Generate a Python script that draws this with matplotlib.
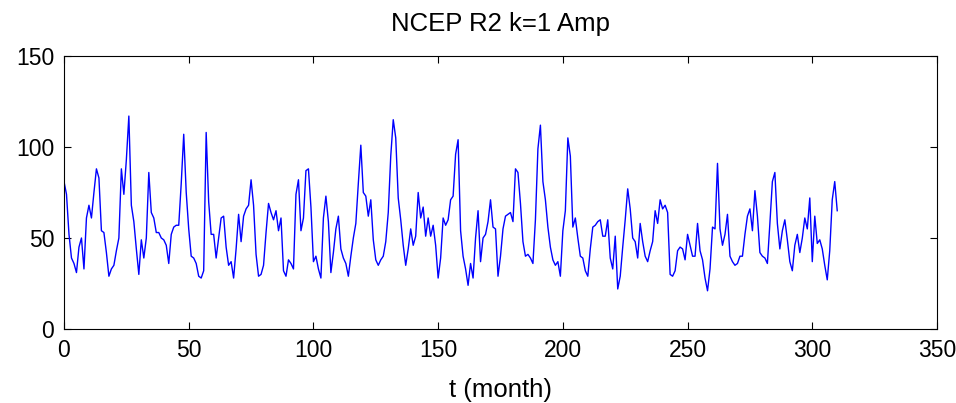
import numpy as np
import matplotlib
matplotlib.use("Agg")
import matplotlib.pyplot as plt

# NCEP R2 k=1 amplitude, one value per month
amp = [
    81, 74, 52, 39, 36, 31, 45, 50, 33, 61,
    68, 61, 75, 88, 83, 54, 53, 42, 29, 33,
    35, 43, 50, 88, 74, 93, 117, 68, 59, 44,
    30, 49, 39, 50, 86, 64, 61, 53, 53, 50,
    49, 46, 36, 52, 56, 57, 57, 80, 107, 75,
    55, 40, 39, 36, 29, 28, 32, 108, 70, 52,
    52, 39, 50, 61, 62, 45, 35, 37, 28, 44,
    63, 48, 62, 66, 68, 82, 68, 41, 29, 30,
    35, 53, 69, 64, 60, 65, 54, 61, 32, 29,
    38, 36, 33, 74, 82, 54, 61, 87, 88, 67,
    37, 40, 33, 28, 61, 73, 59, 31, 42, 55,
    62, 44, 39, 36, 29, 40, 50, 58, 80, 101,
    75, 73, 62, 71, 49, 38, 35, 38, 40, 48,
    64, 95, 115, 105, 72, 60, 46, 35, 44, 55,
    46, 51, 75, 61, 67, 51, 61, 51, 57, 46,
    28, 39, 61, 57, 60, 71, 73, 96, 104, 54,
    40, 33, 24, 36, 28, 50, 65, 37, 50, 52,
    59, 71, 56, 55, 29, 40, 55, 62, 63, 64,
    59, 88, 86, 69, 48, 40, 41, 39, 36, 60,
    99, 112, 81, 71, 56, 45, 38, 35, 37, 29,
    54, 65, 105, 95, 56, 61, 50, 40, 39, 32,
    29, 44, 56, 57, 59, 60, 51, 51, 60, 39,
    33, 51, 22, 29, 45, 60, 77, 66, 50, 48,
    39, 58, 48, 40, 37, 43, 48, 65, 58, 71,
    66, 68, 64, 30, 29, 32, 43, 45, 44, 38,
    52, 46, 40, 40, 58, 43, 38, 28, 21, 33,
    56, 55, 91, 55, 46, 52, 63, 40, 37, 35,
    36, 40, 40, 52, 62, 66, 54, 76, 62, 42,
    40, 39, 36, 58, 81, 86, 58, 44, 54, 60,
    49, 37, 32, 46, 52, 42, 50, 61, 55, 72,
    37, 62, 47, 49, 44, 35, 27, 43, 71, 81, 65,
]
t = np.arange(len(amp))

xticks = [0, 50, 100, 150, 200, 250, 300, 350]
yticks = [0, 50, 100, 150]

plt.rcParams['font.family'] = ['Liberation Sans', 'DejaVu Sans']

fig = plt.figure(figsize=(9.56, 4.03), dpi=100)
ax = fig.add_axes([64/956, (403-329)/403, 873/956, 273/403])

ax.plot(t, amp, color='#0000ff', lw=1.0)

ax.set_xlim(0, 350)
ax.set_ylim(0, 150)
ax.set_xticks(xticks)
ax.set_yticks(yticks)
ax.tick_params(direction='in', length=5, width=0.8, top=True, right=True,
               pad=7, labelsize=16.5)
for s in ax.spines.values():
    s.set_linewidth(0.8)

ax.set_xlabel("t (month)", fontsize=18.5, labelpad=12)
ax.set_title("NCEP R2 k=1 Amp", fontsize=18.5, pad=18)

fig.savefig("out.png", dpi=100)
